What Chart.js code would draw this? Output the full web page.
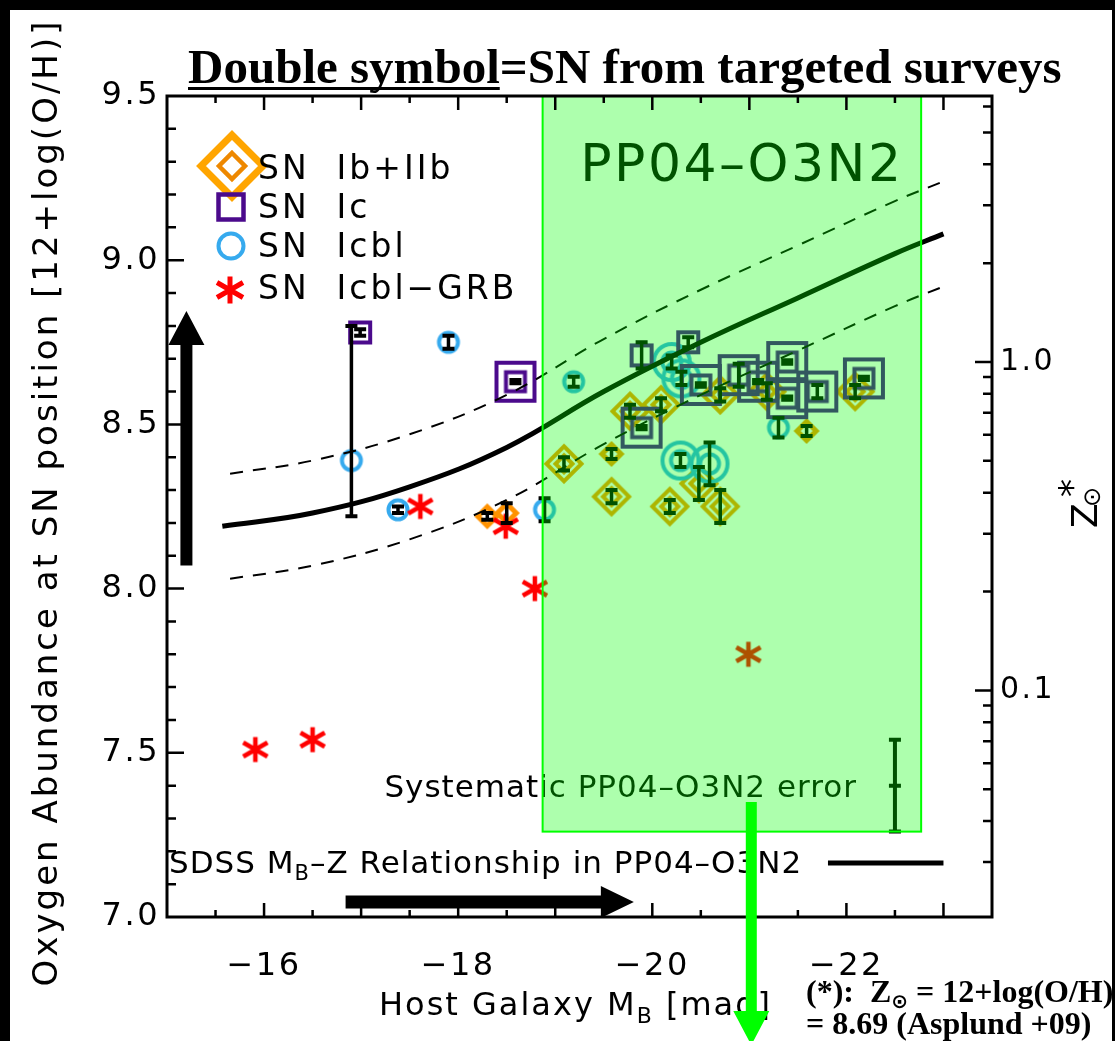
<!DOCTYPE html>
<html>
<head>
<meta charset="utf-8">
<title>SN host metallicity</title>
<script src="https://cdn.jsdelivr.net/npm/chart.js@4/dist/chart.umd.min.js"></script>
<style>
  html, body { margin: 0; padding: 0; background: #fff; }
  canvas { display: block; }
</style>
</head>
<body>
<canvas id="ohChart" width="1115" height="1041"></canvas>
<script>
const solarOH = 8.69; // Asplund +09

// SN Ib + IIb (diamonds); "targeted" = double symbol
const ibMag = [-18.30, -18.50, -19.58, -21.59];
const ibOH = [8.22, 8.23, 8.41, 8.48];
const ibErr = [0.01, 0.03, 0.015, 0.015];
const ibTargetedMag = [-19.77, -20.09, -20.70, -21.18, -22.09, -19.09, -19.58, -20.48, -20.18, -20.70];
const ibTargetedOH = [8.54, 8.56, 8.59, 8.60, 8.60, 8.38, 8.28, 8.32, 8.25, 8.25];
const ibTargetedErr = [0.02, 0.02, 0.02, 0.025, 0.02, 0.02, 0.02, 0.05, 0.02, 0.05];

// SN Ic (squares)
const icMag = [-16.99, -19.89, -20.37];
const icOH = [8.78, 8.71, 8.75];
const icErr = [0.01, 0.04, 0.015];
const icTargetedMag = [-18.59, -19.89, -20.50, -20.89, -21.09, -21.39, -21.39, -21.70, -22.18];
const icTargetedOH = [8.63, 8.49, 8.62, 8.65, 8.63, 8.69, 8.58, 8.60, 8.64];
const icTargetedErr = [0.005, 0.005, 0.005, 0.035, 0.005, 0.005, 0.005, 0.02, 0.005];

// SN Icbl (circles)
const icblMag = [-16.90, -17.90, -17.38, -18.89, -19.19, -21.30];
const icblOH = [8.39, 8.75, 8.24, 8.24, 8.63, 8.49];
const icblErrLo = [0.17, 0.02, 0.01, 0.035, 0.015, 0.03];
const icblErrHi = [0.41, 0.02, 0.01, 0.035, 0.015, 0.03];
const icblTargetedMag = [-20.20, -20.30, -20.29, -20.59];
const icblTargetedOH = [8.69, 8.64, 8.39, 8.38];
const icblTargetedErr = [0.02, 0.02, 0.02, 0.065];

// SN Icbl-GRB (asterisks)
const grbMag = [-17.61, -18.49, -18.79, -15.91, -16.50, -20.99];
const grbOH = [8.25, 8.19, 8.00, 7.51, 7.54, 7.80];

// SDSS M_B-Z relation in PP04-O3N2 and its scatter
const sdssMag = [-15.57, -16.5, -17.5, -18.5, -19.5, -20.5, -21.5, -22.5, -23.0];
const sdssOH = [8.19, 8.23, 8.31, 8.43, 8.60, 8.75, 8.885, 9.02, 9.08];
const scatterMag = [-15.65, -16.5, -17.5, -18.5, -19.5, -20.5, -21.5, -22.5, -23.0];
const scatterHiOH = [8.35, 8.39, 8.47, 8.59, 8.76, 8.91, 9.045, 9.18, 9.24];
const scatterLoOH = [8.03, 8.07, 8.15, 8.27, 8.44, 8.59, 8.725, 8.86, 8.92];

// systematic PP04-O3N2 error bar
const sysMag = -22.5;
const sysOH = 7.4;
const sysErr = 0.14;

// shaded PP04-O3N2 region
const boxMag = [-18.87, -22.77];
const boxOH = [7.26, 9.5];

// axis ticks
const magTicks = [-16, -18, -20, -22];
const ohTicks = [7.0, 7.5, 8.0, 8.5, 9.0, 9.5];
const zTicks = [0.1, 1.0];

const SANS = "'DejaVu Sans', 'Noto Sans', sans-serif";
const SERIF = "'Liberation Serif', 'DejaVu Serif', serif";

const ORANGE = '#ff9200';
const PURPLE = '#4b0a8c';
const BLUE = '#36aaee';
const RED = '#ff0000';

function symbol(half, paint) {
  const c = document.createElement('canvas');
  c.width = c.height = half * 2;
  const g = c.getContext('2d');
  g.translate(half, half);
  paint(g);
  return c;
}

function diamond(g, r, color, lw) {
  g.strokeStyle = color;
  g.lineWidth = lw;
  g.lineJoin = 'miter';
  g.beginPath();
  g.moveTo(0, -r);
  g.lineTo(r, 0);
  g.lineTo(0, r);
  g.lineTo(-r, 0);
  g.closePath();
  g.stroke();
}

function square(g, h, color, lw) {
  g.strokeStyle = color;
  g.lineWidth = lw;
  g.lineJoin = 'miter';
  g.strokeRect(-h, -h, 2 * h, 2 * h);
}

function ring(g, r, color, lw) {
  g.strokeStyle = color;
  g.lineWidth = lw;
  g.beginPath();
  g.arc(0, 0, r, 0, Math.PI * 2);
  g.stroke();
}

function asterisk(g, r, color, lw) {
  g.strokeStyle = color;
  g.lineWidth = lw;
  g.beginPath();
  g.moveTo(0, -r * 0.9);
  g.lineTo(0, r * 0.9);
  for (const a of [30, -30]) {
    const t = a * Math.PI / 180;
    g.moveTo(-r * Math.cos(t), -r * Math.sin(t));
    g.lineTo(r * Math.cos(t), r * Math.sin(t));
  }
  g.stroke();
}

const ibStyle = symbol(16, g => diamond(g, 9.5, ORANGE, 5));
const ibTargetedStyle = symbol(24, g => { diamond(g, 17.5, ORANGE, 4); diamond(g, 8.5, ORANGE, 4); });
const icStyle = symbol(16, g => square(g, 10, PURPLE, 4));
const icTargetedStyle = symbol(24, g => { square(g, 19, PURPLE, 4); square(g, 9.5, PURPLE, 4); });
const icblStyle = symbol(16, g => ring(g, 9.5, BLUE, 4));
const icblTargetedStyle = symbol(24, g => { ring(g, 18, BLUE, 4); ring(g, 9.5, BLUE, 4); });
const grbStyle = symbol(18, g => asterisk(g, 14, RED, 4.5));

function points(mag, oh) {
  return mag.map((m, i) => ({ x: m, y: oh[i] }));
}

function markerSet(label, mag, oh, lo, hi, style, order) {
  return {
    label: label,
    data: points(mag, oh),
    errLo: lo,
    errHi: hi,
    pointStyle: style,
    pointRadius: 10,
    pointHoverRadius: 10,
    showLine: false,
    order: order
  };
}

function curveSet(label, mag, oh, width, dash) {
  return {
    type: 'line',
    label: label,
    data: points(mag, oh),
    borderColor: '#000',
    borderWidth: width,
    borderDash: dash,
    pointRadius: 0,
    fill: false,
    tension: 0.4,
    order: 0
  };
}

// error bars, annotations inside the plot and the translucent PP04-O3N2 region
const regionPlugin = {
  id: 'region',
  afterDatasetsDraw(chart) {
    const ctx = chart.ctx;
    const x = chart.scales.x;
    const y = chart.scales.y;
    ctx.save();
    ctx.strokeStyle = '#000';
    chart.data.datasets.forEach(ds => {
      if (!ds.errLo) return;
      ds.data.forEach((p, i) => {
        const px = x.getPixelForValue(p.x);
        const top = y.getPixelForValue(p.y + ds.errHi[i]);
        const bot = y.getPixelForValue(p.y - ds.errLo[i]);
        ctx.lineWidth = 3.5;
        ctx.beginPath();
        ctx.moveTo(px, top);
        ctx.lineTo(px, bot);
        ctx.stroke();
        ctx.lineWidth = 4;
        ctx.beginPath();
        ctx.moveTo(px - 6, top);
        ctx.lineTo(px + 6, top);
        ctx.moveTo(px - 6, bot);
        ctx.lineTo(px + 6, bot);
        ctx.stroke();
      });
    });

    // systematic error bar and its label
    const sx = x.getPixelForValue(sysMag);
    const sTop = y.getPixelForValue(sysOH + sysErr);
    const sMid = y.getPixelForValue(sysOH);
    const sBot = y.getPixelForValue(sysOH - sysErr);
    ctx.lineWidth = 4;
    ctx.beginPath();
    ctx.moveTo(sx, sTop);
    ctx.lineTo(sx, sBot);
    ctx.moveTo(sx - 6, sTop);
    ctx.lineTo(sx + 6, sTop);
    ctx.moveTo(sx - 6, sMid);
    ctx.lineTo(sx + 6, sMid);
    ctx.moveTo(sx - 6, sBot);
    ctx.lineTo(sx + 6, sBot);
    ctx.stroke();

    ctx.fillStyle = '#000';
    ctx.letterSpacing = '1px';
    ctx.font = '31px ' + SANS;
    ctx.textAlign = 'right';
    ctx.textBaseline = 'alphabetic';
    ctx.fillText('Systematic PP04\u2013O3N2 error', sx - 38, sMid + 11);

    const bx0 = x.getPixelForValue(boxMag[0]);
    const bx1 = x.getPixelForValue(boxMag[1]);
    const by0 = y.getPixelForValue(boxOH[1]);
    const by1 = y.getPixelForValue(boxOH[0]);

    ctx.letterSpacing = '2.5px';
    ctx.font = '52px ' + SANS;
    ctx.textAlign = 'center';
    ctx.fillText('PP04\u2013O3N2', (bx0 + bx1) / 2 + 10, by0 + 85);

    ctx.fillStyle = 'rgba(0, 255, 0, 0.32)';
    ctx.fillRect(bx0, by0, bx1 - bx0, by1 - by0);
    ctx.strokeStyle = '#00ff00';
    ctx.lineWidth = 2;
    ctx.strokeRect(bx0, by0, bx1 - bx0, by1 - by0);
    ctx.restore();
  }
};

function richText(ctx, parts, x, y, align) {
  let w = 0;
  parts.forEach(p => {
    ctx.font = p.font;
    p.w = ctx.measureText(p.text).width;
    w += p.w;
  });
  let cx = align === 'center' ? x - w / 2 : (align === 'right' ? x - w : x);
  ctx.textAlign = 'left';
  parts.forEach(p => {
    ctx.font = p.font;
    ctx.fillText(p.text, cx, y + (p.dy || 0));
    cx += p.w;
  });
}

function arrow(ctx, x0, y0, x1, y1, shaftHalf, headHalf, headLen, color) {
  const a = Math.atan2(y1 - y0, x1 - x0);
  const len = Math.hypot(x1 - x0, y1 - y0);
  ctx.save();
  ctx.translate(x0, y0);
  ctx.rotate(a);
  ctx.fillStyle = color;
  ctx.beginPath();
  ctx.moveTo(0, -shaftHalf);
  ctx.lineTo(len - headLen, -shaftHalf);
  ctx.lineTo(len - headLen, -headHalf);
  ctx.lineTo(len, 0);
  ctx.lineTo(len - headLen, headHalf);
  ctx.lineTo(len - headLen, shaftHalf);
  ctx.lineTo(0, shaftHalf);
  ctx.closePath();
  ctx.fill();
  ctx.restore();
}

// frame, tick marks, legend, titles and arrows
const framePlugin = {
  id: 'frame',
  beforeDraw(chart) {
    const ctx = chart.ctx;
    ctx.save();
    ctx.fillStyle = '#fff';
    ctx.fillRect(0, 0, chart.width, chart.height);
    ctx.restore();
    ctx.letterSpacing = '2.5px';
  },
  afterDraw(chart) {
    const ctx = chart.ctx;
    const a = chart.chartArea;
    const x = chart.scales.x;
    const y = chart.scales.y;
    const z = chart.scales.zSun;
    ctx.save();
    ctx.strokeStyle = '#000';
    ctx.fillStyle = '#000';

    // tick marks point into the plot
    ctx.lineWidth = 2.5;
    ctx.beginPath();
    for (let m = -15.5; m > -23.5; m -= 0.5) {
      const px = x.getPixelForValue(m);
      const len = Number.isInteger(m) ? 14 : 7;
      ctx.moveTo(px, a.bottom);
      ctx.lineTo(px, a.bottom - len);
      ctx.moveTo(px, a.top);
      ctx.lineTo(px, a.top + len);
    }
    for (let k = 71; k < 95; k++) {
      const py = y.getPixelForValue(k / 10);
      const len = k % 5 === 0 ? 17 : 9;
      ctx.moveTo(a.left, py);
      ctx.lineTo(a.left + len, py);
    }
    for (const dec of [0.01, 0.1, 1]) {
      for (let k = 1; k < 10; k++) {
        const v = dec * k;
        if (v <= z.min || v >= z.max) continue;
        const py = z.getPixelForValue(v);
        const len = k === 1 ? 17 : 9;
        ctx.moveTo(a.right, py);
        ctx.lineTo(a.right - len, py);
      }
    }
    ctx.stroke();

    ctx.lineWidth = 3;
    ctx.strokeRect(a.left, a.top, a.right - a.left, a.bottom - a.top);

    // black direction arrows
    arrow(ctx, x.getPixelForValue(-15.2), y.getPixelForValue(8.07),
      x.getPixelForValue(-15.2), y.getPixelForValue(8.845), 6, 18, 34, '#000');
    arrow(ctx, x.getPixelForValue(-16.84), y.getPixelForValue(7.046),
      x.getPixelForValue(-19.81), y.getPixelForValue(7.046), 6.5, 16, 33, '#000');

    // symbol legend
    const lx = a.left + 65;
    const rows = [a.top + 70, a.top + 111, a.top + 150, a.top + 194];
    ctx.save();
    ctx.translate(lx, rows[0]);
    diamond(ctx, 31, '#ffa500', 7);
    diamond(ctx, 13, '#ee8800', 4.5);
    ctx.restore();
    ctx.save();
    ctx.translate(lx - 1, rows[1]);
    square(ctx, 12.5, PURPLE, 4.5);
    ctx.restore();
    ctx.save();
    ctx.translate(lx - 1, rows[2]);
    ring(ctx, 12.5, BLUE, 4);
    ctx.restore();
    ctx.save();
    ctx.translate(lx - 2, rows[3]);
    asterisk(ctx, 15, RED, 5);
    ctx.restore();

    ctx.fillStyle = '#000';
    ctx.letterSpacing = '3px';
    ctx.font = '33px ' + SANS;
    ctx.textAlign = 'left';
    ctx.textBaseline = 'alphabetic';
    const names = ['SN  Ib+IIb', 'SN  Ic', 'SN  Icbl', 'SN  Icbl\u2212GRB'];
    const dy = [13, 11, 11, 9];
    names.forEach((n, i) => ctx.fillText(n, a.left + 91, rows[i] + dy[i]));

    // SDSS relation key
    ctx.letterSpacing = '1px';
    richText(ctx, [
      { text: 'SDSS M', font: '31px ' + SANS },
      { text: 'B', font: '21px ' + SANS, dy: 7 },
      { text: '\u2013Z Relationship in PP04\u2013O3N2', font: '31px ' + SANS }
    ], a.left + 2, 873, 'left');
    ctx.lineWidth = 5;
    ctx.beginPath();
    ctx.moveTo(x.getPixelForValue(-21.81), 863);
    ctx.lineTo(x.getPixelForValue(-23.0), 863);
    ctx.stroke();

    // axis titles
    ctx.letterSpacing = '2px';
    richText(ctx, [
      { text: 'Host Galaxy M', font: '32px ' + SANS },
      { text: 'B', font: '22px ' + SANS, dy: 8 },
      { text: ' [mag]', font: '32px ' + SANS }
    ], (a.left + a.right) / 2 - 4, 1015, 'center');

    ctx.save();
    ctx.letterSpacing = '3px';
    ctx.translate(57, (a.top + a.bottom) / 2 - 4);
    ctx.rotate(-Math.PI / 2);
    ctx.font = '34px ' + SANS;
    ctx.textAlign = 'center';
    ctx.fillText('Oxygen Abundance at SN position [12+log(O/H)]', 0, 0);
    ctx.restore();

    ctx.save();
    ctx.letterSpacing = '0px';
    ctx.translate(1084, 528);
    ctx.rotate(-Math.PI / 2);
    ctx.textAlign = 'left';
    ctx.font = '36px ' + SANS;
    ctx.fillText('Z', 0, 13);
    ctx.font = '24px ' + SANS;
    ctx.fillText('\u2299', 21, 16);
    ctx.font = '36px ' + SANS;
    ctx.fillText('*', 31, 0);
    ctx.restore();

    // plot title
    ctx.letterSpacing = '0px';
    ctx.font = 'bold 49px ' + SERIF;
    ctx.textAlign = 'left';
    const t1 = 'Double symbol';
    const w1 = ctx.measureText(t1).width;
    ctx.fillText(t1 + '=SN from targeted surveys', 188, 83);
    ctx.fillRect(188, 87, w1, 3);

    // footnote
    richText(ctx, [
      { text: '(*):  Z', font: 'bold 32px ' + SERIF },
      { text: '\u2299', font: 'bold 20px ' + SANS, dy: 6 },
      { text: ' = 12+log(O/H)', font: 'bold 32px ' + SERIF }
    ], 806, 1002, 'left');
    ctx.font = 'bold 32px ' + SERIF;
    ctx.fillText('= 8.69 (Asplund +09)', 806, 1034);

    // green pointer to the footnote
    arrow(ctx, x.getPixelForValue(-21.02), y.getPixelForValue(7.35),
      x.getPixelForValue(-21.02), y.getPixelForValue(6.61), 5.5, 18, 34, '#00ff00');

    // dark border of the frame
    ctx.fillStyle = '#000';
    ctx.fillRect(0, 0, chart.width, 10);
    ctx.fillRect(0, 0, 10, chart.height);
    ctx.fillRect(chart.width - 3, 0, 3, chart.height);
    ctx.restore();
  }
};

const tickFont = { family: SANS, size: 32 };

new Chart(document.getElementById('ohChart'), {
  type: 'scatter',
  data: {
    datasets: [
      curveSet('SDSS', sdssMag, sdssOH, 5, []),
      curveSet('SDSS +scatter', scatterMag, scatterHiOH, 2, [13, 10]),
      curveSet('SDSS -scatter', scatterMag, scatterLoOH, 2, [13, 10]),
      markerSet('SN Icbl-GRB', grbMag, grbOH, null, null, grbStyle, 1),
      markerSet('SN Ic', icMag, icOH, icErr, icErr, icStyle, 2),
      markerSet('SN Ic targeted', icTargetedMag, icTargetedOH, icTargetedErr, icTargetedErr, icTargetedStyle, 2),
      markerSet('SN Icbl', icblMag, icblOH, icblErrLo, icblErrHi, icblStyle, 3),
      markerSet('SN Icbl targeted', icblTargetedMag, icblTargetedOH, icblTargetedErr, icblTargetedErr, icblTargetedStyle, 3),
      markerSet('SN Ib+IIb', ibMag, ibOH, ibErr, ibErr, ibStyle, 4),
      markerSet('SN Ib+IIb targeted', ibTargetedMag, ibTargetedOH, ibTargetedErr, ibTargetedErr, ibTargetedStyle, 4)
    ]
  },
  options: {
    responsive: false,
    animation: false,
    devicePixelRatio: 1,
    layout: { padding: { top: 96, left: 0, right: 0, bottom: 0 } },
    plugins: {
      legend: { display: false },
      tooltip: { enabled: false },
      title: { display: false }
    },
    scales: {
      x: {
        type: 'linear',
        position: 'bottom',
        reverse: true,
        min: -23.5,
        max: -15,
        grid: { display: false, drawTicks: false },
        border: { display: false },
        ticks: {
          font: tickFont,
          color: '#000',
          padding: 30,
          maxRotation: 0,
          autoSkip: false,
          callback: v => '\u2212' + Math.abs(v)
        },
        afterBuildTicks: s => { s.ticks = magTicks.map(v => ({ value: v })); },
        afterFit: s => { s.height = 124; }
      },
      y: {
        type: 'linear',
        position: 'left',
        min: 7,
        max: 9.5,
        grid: { display: false, drawTicks: false },
        border: { display: false },
        ticks: {
          font: tickFont,
          color: '#000',
          padding: 7,
          callback: v => v.toFixed(1)
        },
        afterBuildTicks: s => { s.ticks = ohTicks.map(v => ({ value: v })); },
        afterFit: s => { s.width = 167; }
      },
      zSun: {
        axis: 'y',
        type: 'logarithmic',
        position: 'right',
        min: Math.pow(10, 7 - solarOH),
        max: Math.pow(10, 9.5 - solarOH),
        grid: { display: false, drawTicks: false },
        border: { display: false },
        ticks: {
          font: { family: SANS, size: 30 },
          color: '#000',
          padding: 8,
          callback: v => v.toFixed(1)
        },
        afterBuildTicks: s => { s.ticks = zTicks.map(v => ({ value: v })); },
        afterFit: s => { s.width = 123; }
      }
    }
  },
  plugins: [regionPlugin, framePlugin]
});
</script>
</body>
</html>
